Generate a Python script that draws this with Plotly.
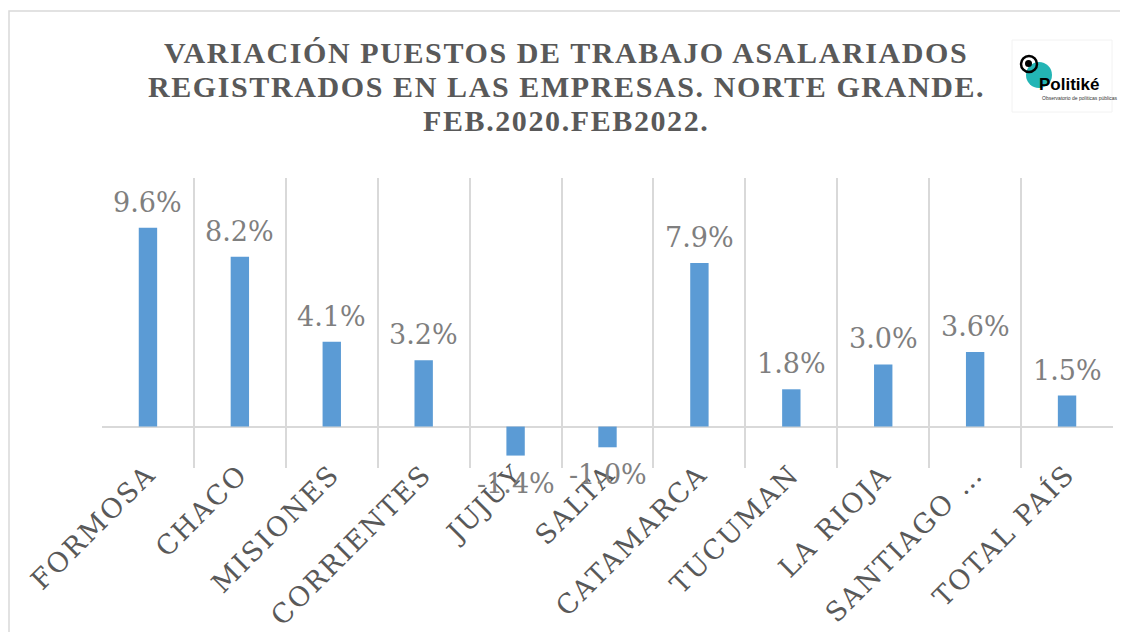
import plotly.graph_objects as go

# ---- data ----
categories = ["FORMOSA", "CHACO", "MISIONES", "CORRIENTES", "JUJUY", "SALTA",
              "CATAMARCA", "TUCUMAN", "LA RIOJA", "SANTIAGO DEL ESTERO", "TOTAL PAÍS"]
tick_labels = ["FORMOSA", "CHACO", "MISIONES", "CORRIENTES", "JUJUY", "SALTA",
               "CATAMARCA", "TUCUMAN", "LA RIOJA", "SANTIAGO …", "TOTAL PAÍS"]
variation_pct = [9.6, 8.2, 4.1, 3.2, -1.4, -1.0, 7.9, 1.8, 3.0, 3.6, 1.5]

title_lines = ["VARIACIÓN PUESTOS DE TRABAJO ASALARIADOS",
               "REGISTRADOS EN LAS EMPRESAS. NORTE GRANDE.",
               "FEB.2020.FEB2022."]

# page has an 8px body margin; work in screen pixels and convert
OFF = 8
W, H = 1120, 624
L, T = 94, 170
PW, PH = 1011, 290
R, B = W - L - PW, H - T - PH


def px(sx):
    return (sx - OFF - L) / PW


def py(sy):
    return (H - B - (sy - OFF)) / PH


def spaced(s, sp):
    return f'<span style="letter-spacing:{sp}px">{s}</span>'


BAR = "#5B9BD5"
GRID = "#D9D9D9"

fig = go.Figure(go.Bar(
    x=categories, y=variation_pct,
    marker=dict(color=BAR, line=dict(width=0)),
    hoverinfo="x+y",
))

shapes = [
    # chart border
    dict(type="rect", xref="paper", yref="paper", x0=px(9), x1=px(1140), y0=py(11), y1=py(650),
         line=dict(color=GRID, width=1.5), fillcolor="rgba(0,0,0,0)", layer="below"),
    # logo box
    dict(type="rect", xref="paper", yref="paper", x0=px(1012), x1=px(1112), y0=py(40), y1=py(112),
         line=dict(color="#F2F2F2", width=1), fillcolor="white"),
    # logo teal circle
    dict(type="circle", xref="paper", yref="paper", x0=px(1026), x1=px(1052), y0=py(62), y1=py(88),
         line=dict(width=0), fillcolor="#23B5B5"),
    # logo black ring
    dict(type="circle", xref="paper", yref="paper", x0=px(1021), x1=px(1037), y0=py(56), y1=py(72),
         line=dict(width=2.5, color="black"), fillcolor="rgba(0,0,0,0)"),
    dict(type="circle", xref="paper", yref="paper", x0=px(1025), x1=px(1032), y0=py(60), y1=py(67),
         line=dict(width=0), fillcolor="black"),
]

annotations = []
title_centers = [52, 86, 121]
for line, cy in zip(title_lines, title_centers):
    annotations.append(dict(
        text=spaced(line, 1.6), xref="paper", yref="paper", x=px(566), y=py(cy),
        xanchor="center", yanchor="middle", showarrow=False,
        font=dict(family="Liberation Serif", size=30, color="#595959", weight="bold")))

# value labels
for cat, v in zip(categories, variation_pct):
    annotations.append(dict(
        text=f"{v:.1f}%", x=cat, y=v, xref="x", yref="y", showarrow=False,
        xanchor="center", yanchor="bottom" if v >= 0 else "top",
        yshift=8 if v >= 0 else -10,
        font=dict(family="DejaVu Serif", size=27, color="#7F7F7F")))

annotations += [
    dict(text="<b>Politiké</b>", xref="paper", yref="paper", x=px(1037), y=py(84),
         xanchor="left", yanchor="middle", showarrow=False,
         font=dict(family="Liberation Sans", size=17, color="black")),
    dict(text="Observatorio de políticas públicas", xref="paper", yref="paper", x=px(1040), y=py(98),
         xanchor="left", yanchor="middle", showarrow=False,
         font=dict(family="Liberation Sans", size=5, color="#333333")),
]

fig.update_layout(
    width=W, height=H,
    margin=dict(l=L, r=R, t=T, b=B, autoexpand=False),
    paper_bgcolor="white", plot_bgcolor="white",
    showlegend=False, bargap=0.80,
    shapes=shapes, annotations=annotations,
    xaxis=dict(
        type="category", tickmode="array", tickvals=categories,
        ticktext=[spaced(t, 2) for t in tick_labels],
        tickangle=-45, tickson="boundaries", showgrid=True, gridcolor=GRID, gridwidth=1.5,
        ticks="", showline=False, zeroline=False, ticklabelstandoff=-16,
        tickfont=dict(family="DejaVu Serif", size=27, color="#595959"),
    ),
    yaxis=dict(
        range=[-2, 12], showgrid=False, showticklabels=False, ticks="",
        zeroline=True, zerolinecolor=GRID, zerolinewidth=2, showline=False,
    ),
)

fig.write_html("out.html")
